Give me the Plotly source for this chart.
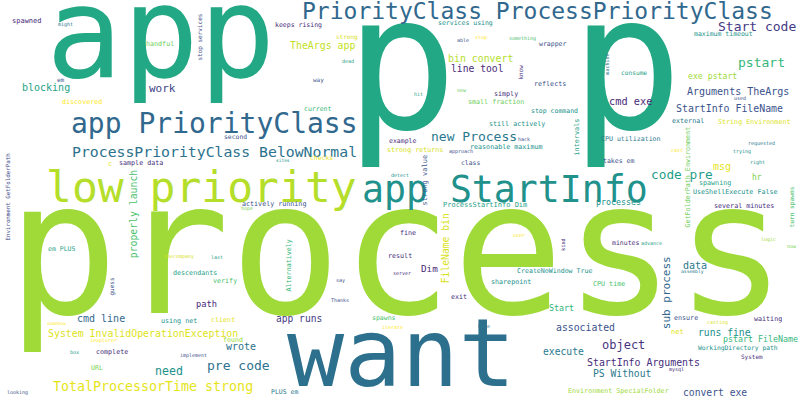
import plotly.graph_objects as go

# word, x (px), y (px, x-height centre), font size, colour, rotation
words = [
    "process", "p p", "app", "want", "app StartInfo", "low priority", "app PriorityClass",
    "PriorityClass ProcessPriorityClass", "ProcessPriorityClass BelowNormal",
    "new Process", "Start code", "pstart", "code pre", "pre code", "TotalProcessorTime strong",
    "object", "need", "work", "sub process", "blocking", "TheArgs app", "bin convert", "line tool",
    "exe pstart", "Arguments TheArgs", "cmd exe", "StartInfo FileName", "msg", "hr", "data",
    "properly launch", "cmd line", "System InvalidOperationException", "wrote", "app runs",
    "FileName bin", "Dim", "associated", "execute", "StartInfo Arguments", "PS Without",
    "convert exe", "runs fine", "pstart FileName", "Start", "processes", "path", "net",
    "spawned", "handful", "discovered", "sample data", "c", "keeps rising", "strong", "way",
    "current", "second", "checks", "example", "strong returns", "services using", "wrapper",
    "reflects", "simply", "small fraction", "stop command", "still actively", "intervals",
    "reasonable maximum", "class", "strong value", "maximum timeout", "consume", "external",
    "String Environment", "CPU utilization", "takes em", "GetFolderPath Environment", "spawning",
    "UseShellExecute False", "turn spawns", "several minutes", "minutes", "CPU time", "ensure",
    "waiting", "WorkingDirectory path", "System", "Environment SpecialFolder",
    "ProcessStartInfo Dim", "fine", "result", "CreateNoWindow True", "sharepoint", "exit",
    "actively running", "Alternatively", "descendants", "verify", "client", "spawns", "found",
    "PLUS em", "em PLUS", "guess", "using net", "complete", "URL", "Environment GetFolderPath",
    "stop services",
    "might", "em", "dead", "sites", "detect", "able", "stop", "something", "know", "new", "hit",
    "hack", "approach", "machine", "used", "requested", "cast", "trying", "right", "logic", "now",
    "assembly", "advance", "casting", "mysql", "user", "kind", "server", "base", "hope", "last",
    "say", "Thanks", "iterate", "thecompany", "somehow", "iexplorer", "box", "implement", "looking",
]

word_x = [
    397, 514, 160, 401, 505, 201, 214,
    537, 214,
    474, 757, 761, 682, 238, 153,
    623, 169, 162, 667, 46, 322, 480, 477,
    712, 738, 630, 729, 722, 757, 695,
    134, 101, 143, 241, 299,
    446, 429, 585, 563, 643, 622,
    715, 724, 760, 561, 618, 206, 677,
    27, 160, 82, 141, 110, 298, 347, 318,
    317, 235, 321, 402, 415, 465, 552,
    550, 506, 496, 554, 517, 577,
    506, 470, 426, 723, 634, 688,
    754, 631, 618, 688, 715,
    735, 792, 744, 625, 609, 686,
    768, 738, 752, 618,
    485, 408, 400, 554, 511, 459,
    274, 289, 195, 225, 223, 384, 233,
    284, 61, 112, 179, 112, 97, 8,
    200,
    65, 61, 348, 283, 400, 463, 481, 522, 520, 462, 418,
    524, 461, 607, 740, 761, 677, 742, 757, 768, 792,
    692, 651, 717, 676, 519, 563, 402, 484, 247, 217,
    340, 340, 392, 179, 56, 103, 74, 193, 17,
]

word_y = [
    263, 77, 42, 360, 192, 190, 126,
    13, 153,
    137, 27, 63, 175, 366, 387,
    346, 372, 89, 293, 88, 46, 59, 69,
    77, 92, 102, 109, 167, 178, 266,
    214, 319, 334, 347, 319,
    248, 269, 328, 352, 363, 374,
    393, 333, 340, 309, 203, 305, 333,
    22, 44, 102, 163, 165, 25, 37, 80,
    109, 137, 158, 141, 150, 23, 44,
    84, 94, 102, 111, 124, 137,
    147, 163, 180, 34, 73, 121,
    122, 139, 161, 177, 183,
    192, 207, 206, 243, 284, 318,
    319, 348, 357, 391,
    206, 233, 256, 271, 282, 297,
    204, 266, 273, 281, 320, 318, 340,
    392, 249, 287, 321, 352, 368, 197,
    37,
    25, 80, 61, 161, 175, 40, 38, 39, 72, 90, 94,
    139, 152, 64, 98, 144, 150, 152, 163, 240, 246,
    272, 243, 323, 370, 235, 245, 273, 326, 209, 257,
    281, 300, 327, 257, 324, 341, 352, 356, 393,
]

word_size = [
    185, 187, 127, 95, 36.5, 43, 28,
    23, 14.8,
    13, 13, 13, 12.8, 13, 13.3,
    12, 11.6, 11, 11, 10, 9.9, 9.9, 9.7,
    8.2, 10, 10.3, 9.9, 10, 8, 10,
    9.8, 10, 9.9, 10, 9.6,
    9.7, 9.3, 9.8, 9.7, 9.9, 9.7,
    9.7, 9.7, 8.3, 8.3, 8.3, 8.7, 7,
    7, 6.7, 6.7, 6.7, 7, 6.5, 6, 6,
    6.5, 6.4, 6.4, 6.5, 6.7, 6.5, 6.5,
    6.7, 6.7, 6.7, 6.5, 6.7, 6.8,
    6.7, 6.4, 7, 6.5, 6.2, 6.7,
    6.7, 6.6, 6.5, 6.7, 6.7,
    6.7, 6.2, 6.7, 6.5, 6.7, 6.7,
    6.7, 6.3, 6, 6.7,
    7, 6.7, 6.7, 6.6, 6.7, 6.7,
    6.7, 6.7, 6.7, 6.7, 6.7, 6.5, 6.7,
    6.5, 6.5, 6, 6.7, 6.7, 6.7, 5.8,
    6,
    5, 6, 5, 4.5, 5, 5, 5, 5, 6, 5, 5,
    5, 5, 5, 5, 5, 5, 5, 5, 5, 5,
    4.7, 5, 5, 5, 5, 5, 5, 5, 5, 5,
    5, 5, 5, 5, 4.5, 5, 5, 5, 5,
]

word_color = [
    "#a0da39", "#22a884", "#22a884", "#2d708e", "#21918c", "#b5de2b", "#31688e",
    "#31688e", "#2c728e",
    "#2a788e", "#443983", "#35b779", "#1f9e89", "#2c728e", "#e5e419",
    "#46337e", "#21918c", "#414487", "#31688e", "#1fa187", "#c2df23", "#b5de2b", "#482878",
    "#a0da39", "#3b528b", "#482878", "#3b528b", "#e5e419", "#7ad151", "#2a788e",
    "#4ac16d", "#31688e", "#dde318", "#2c728e", "#443a83",
    "#d8e219", "#482878", "#3b528b", "#2a788e", "#472d7b", "#2a788e",
    "#3b528b", "#21918c", "#35b779", "#2fb47c", "#21918c", "#482878", "#e5e419",
    "#482878", "#6ece58", "#fde725", "#472d7b", "#e5e419", "#472d7b", "#d8e219", "#3b528b",
    "#35b779", "#3b528b", "#e5e419", "#472d7b", "#d8e219", "#21918c", "#3b528b",
    "#3b528b", "#472d7b", "#6ece58", "#21918c", "#21918c", "#1fa187",
    "#21918c", "#3b528b", "#3b528b", "#21918c", "#1fa187", "#2a788e",
    "#dde318", "#2a788e", "#3b528b", "#6ece58", "#1fa187",
    "#21918c", "#4ac16d", "#472d7b", "#472d7b", "#4ac16d", "#3b528b",
    "#472d7b", "#21918c", "#472d7b", "#a0da39",
    "#1fa187", "#472d7b", "#472d7b", "#21918c", "#21918c", "#472d7b",
    "#3b528b", "#35b779", "#1fa187", "#4ac16d", "#e5e419", "#4ac16d", "#a0da39",
    "#2a788e", "#1fa187", "#3b528b", "#21918c", "#472d7b", "#7ad151", "#3e4a89",
    "#3e4a89",
    "#2a788e", "#3b528b", "#1fa187", "#21918c", "#21918c", "#3b528b", "#fde725", "#4ac16d",
    "#472d7b", "#6ece58", "#1fa187",
    "#3b528b", "#3b528b", "#2a788e", "#3b528b", "#2a788e", "#fde725", "#21918c", "#21918c",
    "#a0da39", "#7ad151",
    "#2a788e", "#1fa187", "#dde318", "#472d7b", "#fde725", "#472d7b", "#472d7b", "#2a788e",
    "#7ad151", "#1fa187",
    "#3b528b", "#3b528b", "#fde725", "#d8e219", "#fde725", "#fde725", "#1fa187", "#3b528b",
    "#3b528b",
]

vertical_words = {
    "sub process", "properly launch", "FileName bin", "intervals", "strong value",
    "GetFolderPath Environment", "turn spawns", "Alternatively", "guess",
    "Environment GetFolderPath", "stop services", "know", "machine", "kind",
}

FONT = "DejaVu Sans Mono"
XH_SHIFT = 0.074  # distance from text box centre to x-height centre, in em

annotations = []
for w, x, y, s, c in zip(words, word_x, word_y, word_size, word_color):
    vertical = w in vertical_words
    if vertical:
        ax_, ay_ = x - XH_SHIFT * s, y
    else:
        ax_, ay_ = x, y - XH_SHIFT * s
    annotations.append(dict(
        text=w, x=ax_, y=ay_, xref="x", yref="y",
        xanchor="center", yanchor="middle", showarrow=False,
        textangle=-90 if vertical else 0,
        font=dict(family=FONT, size=s, color=c),
        borderpad=0,
    ))

fig = go.Figure()
fig.add_trace(go.Scatter(x=[0, 800], y=[0, 400], mode="markers",
                         marker=dict(opacity=0), hoverinfo="skip", showlegend=False))
fig.update_layout(
    width=800, height=400,
    margin=dict(l=0, r=0, t=0, b=0),
    paper_bgcolor="white", plot_bgcolor="white",
    xaxis=dict(range=[0, 800], visible=False, fixedrange=True),
    yaxis=dict(range=[400, 0], visible=False, fixedrange=True),
    annotations=annotations,
    showlegend=False,
)
fig.write_html(
    "out.html",
    config={"displayModeBar": False},
    post_script="document.body.style.margin='0';document.body.style.overflow='hidden';",
)
